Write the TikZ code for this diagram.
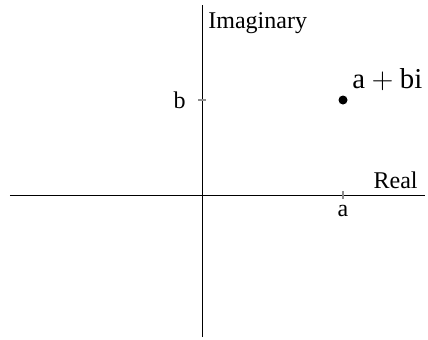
\documentclass[tikz,border=0pt]{standalone}
\usepackage{fontspec}
\setmainfont{Liberation Serif}
\usetikzlibrary{positioning}

\begin{document}
\begin{tikzpicture}[x=0.5pt,y=0.5pt,font=\large,
  axis/.style={black,line width=0.5pt},
  tickmark/.style={black!45,line width=0.8pt},
  lbl/.style={inner sep=0pt}]
  \useasboundingbox (-202,-144) rectangle (226,195);
  % axes
  \coordinate (xl) at (-192,0);
  \coordinate (xr) at (223,0);
  \coordinate (yb) at (0,-142);
  \coordinate (yt) at (0,190);
  \draw[axis] (xl) -- (xr);
  \draw[axis] (yb) -- (yt);
  \node[lbl,anchor=base east] (re) at ([xshift=-3.5pt,yshift=3.5pt]xr) {Real};
  \node[lbl,anchor=base west] (im) at ([xshift=3pt,yshift=-11.5pt]yt) {Imaginary};
  % ticks
  \coordinate (ta) at (141,0);
  \coordinate (tb) at (0,95);
  \draw[tickmark] ([yshift=-2pt]ta) -- ([yshift=2pt]ta);
  \draw[tickmark] ([xshift=-2pt]tb) -- ([xshift=2pt]tb);
  \node[lbl,anchor=north] (la) at ([yshift=-5pt]ta) {a};
  \node[lbl,anchor=east] (lb) at ([xshift=-8pt]tb) {b};
  % the point
  \node[circle,fill,inner sep=0pt,minimum size=4.5pt] (z) at (141,95) {};
  \node[lbl,anchor=base west,font=\Large] (zl) at ([xshift=4.5pt,yshift=6pt]z) {$\mathrm{a}+\mathrm{bi}$};
\end{tikzpicture}
\end{document}
